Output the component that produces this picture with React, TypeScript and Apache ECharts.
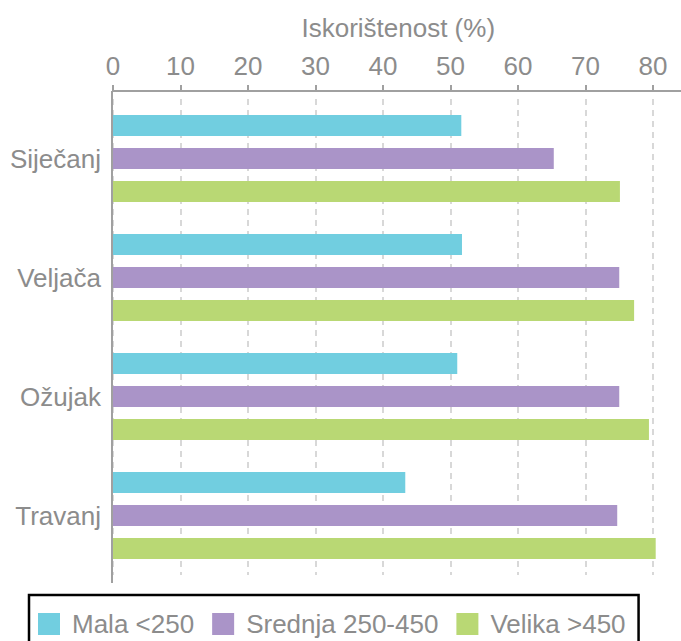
import React, { useEffect, useRef } from "react";
import * as echarts from "echarts";

const categories = ["Siječanj", "Veljača", "Ožujak", "Travanj"];
const seriesNames = ["Mala <250", "Srednja 250-450", "Velika >450"];
const mala = [51.6, 51.7, 51.0, 43.3];
const srednja = [65.3, 75.0, 75.0, 74.7];
const velika = [75.1, 77.2, 79.4, 80.4];
const colors = ["#71CEE0", "#AA94C8", "#B9D874"];
const tickLabels = ["0", "10", "20", "30", "40", "50", "60", "70", "80"];
const axisName = "Iskorištenost (%)";

const FONT = "Liberation Sans, Arial, sans-serif";
const GRAY = "#8c8c8c";

export default function App() {
  const ref = useRef<HTMLDivElement>(null);
  useEffect(() => {
    if (!ref.current) return;
    const chart = echarts.init(ref.current, null, { renderer: "svg" });
    const data = [mala, srednja, velika];
    chart.setOption({
      animation: false,
      textStyle: { fontFamily: FONT },
      grid: { left: 113, width: 607.5, top: 99, height: 476, outerBoundsMode: "none", containLabel: false },
      xAxis: {
        type: "value",
        position: "top",
        min: 0,
        max: 90,
        interval: 10,
        offset: 8,
        name: axisName,
        nameLocation: "middle",
        nameGap: 50,
        nameTextStyle: { color: GRAY, fontSize: 26, fontFamily: FONT, padding: [0, 37, 0, 0] },
        axisLine: { show: true, lineStyle: { color: "#a0a0a0", width: 2 } },
        axisTick: { show: true, length: 6, lineStyle: { color: "#a0a0a0", width: 2 } },
        axisLabel: {
          color: GRAY,
          fontSize: 26,
          fontFamily: FONT,
          margin: 12,
          showMaxLabel: false,
          formatter: (v: number) => (tickLabels.includes(String(v)) ? String(v) : ""),
        },
        splitLine: { show: true, lineStyle: { color: "#cccccc", width: 1.5, type: [6, 5] } },
      },
      yAxis: {
        type: "category",
        data: categories,
        inverse: true,
        axisLine: { show: false },
        axisTick: { show: false },
        axisLabel: { color: GRAY, fontSize: 26, fontFamily: FONT, margin: 12 },
        splitLine: { show: false },
      },
      legend: {
        data: seriesNames,
        left: 29,
        top: 595,
        orient: "horizontal",
        padding: [16, 13, 16, 9],
        borderColor: "#000",
        borderWidth: 2.5,
        borderRadius: 0,
        itemWidth: 22,
        itemHeight: 22,
        itemGap: 18,
        icon: "rect",
        textStyle: { color: GRAY, fontSize: 26, fontFamily: FONT, padding: [0, 0, 0, 7] },
      },
      graphic: [
        {
          type: "line",
          shape: { x1: 112, y1: 91, x2: 112, y2: 583 },
          style: { stroke: "#a0a0a0", lineWidth: 2 },
          z: 10,
        },
      ],
      series: seriesNames.map((name, i) => ({
        name,
        type: "bar",
        data: data[i],
        barWidth: 21,
        barGap: "57%",
        itemStyle: { color: colors[i] },
      })),
    });
    return () => chart.dispose();
  }, []);
  return <div ref={ref} style={{ width: 681, height: 641, position: "absolute", left: 0, top: 0 }} />;
}
